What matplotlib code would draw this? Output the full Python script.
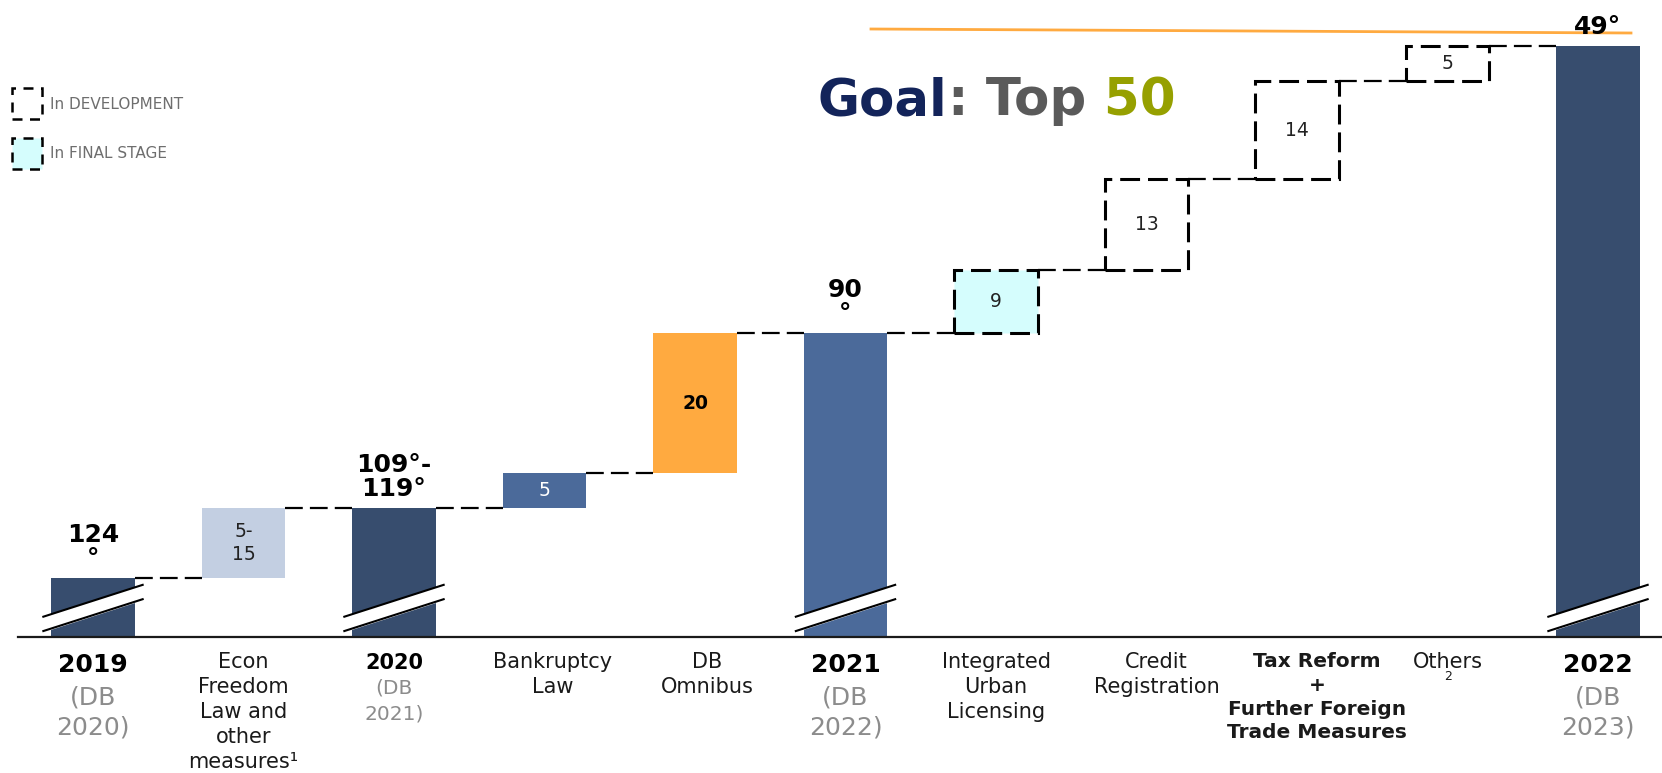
import matplotlib.pyplot as plt
import numpy as np

# dados do waterfall (ranking Doing Business)
categories = ['2019', 'Econ\nFreedom\nLaw and\nother\nmeasures\u00b9', '2020', 'Bankruptcy\nLaw',
              'DB\nOmnibus', '2021', 'Integrated\nUrban\nLicensing', 'Credit\nRegistration',
              'Tax Reform\n+\nFurther Foreign\nTrade Measures', 'Others', '2022']
sub_labels = ['(DB\n2020)', '', '(DB\n2021)', '', '', '(DB\n2022)', '', '', '', '', '(DB\n2023)']
bar_kind = ['total', 'step', 'total', 'step', 'step', 'total', 'step', 'step', 'step', 'step', 'total']
start_visible = 8.4          # parte visivel da barra "quebrada" de 2019
step_values = [10, 5, 20, 9, 13, 14, 5]
step_texts = ['5-\n15', '5', '20', '9', '13', '14', '5']
step_status = ['done', 'done', 'done', 'final', 'dev', 'dev', 'dev']
rank_texts = ['124\n°', '109°-\n119°', '90\n°', '49°']

total_colors = ['#374D6E', '#374D6E', '#4B6A9A', '#374D6E']
step_colors = ['#C3CFE2', '#4B6A9A', '#FFAA40', '#D5FDFD', 'white', 'white', 'white']
step_text_colors = ['#222222', 'white', 'black', '#222222', '#222222', '#222222', '#222222']

W, H = 1662, 773
PX_X, PX_Y = 150.5, 7.0       # pixels por unidade
X0, Y0 = 93, 637              # pixel do centro da 1a barra / linha de base


def px2x(p):
    return (p - X0) / PX_X


def px2y(p):
    return (Y0 - p) / PX_Y


fig = plt.figure(figsize=(W / 100, H / 100), dpi=100)
ax = fig.add_axes([0, 0, 1, 1])
ax.set_xlim(px2x(0), px2x(W))
ax.set_ylim(px2y(H), px2y(0))
ax.axis('off')

width = 0.558
box_ls = (0, (6.5, 2.6))
conn_ls = (0, (8, 3.2))

# calcula bases e topos
level = 0
bottoms, tops = [], []
si = 0
for i, k in enumerate(bar_kind):
    if k == 'total':
        if i == 0:
            level = start_visible
        bottoms.append(0)
        tops.append(level)
    else:
        bottoms.append(level)
        level = level + step_values[si]
        tops.append(level)
        si += 1

si = 0
ti = 0
for i, k in enumerate(bar_kind):
    if k == 'total':
        ax.bar(i, tops[i], width=width, color=total_colors[ti], zorder=2)
        ax.text(i, tops[i] + 1.0, rank_texts[ti], ha='center', va='bottom', fontsize=18,
                fontweight='bold', color='black', linespacing=1.0)
        # marca de quebra
        xs = np.array([i - 0.33, i + 0.33])
        up = np.array([2.9, 7.45])
        lo = up - 2.05
        ax.fill_between(xs, lo, up, color='white', zorder=3)
        ax.plot(xs, up, color='black', lw=1.5, zorder=4)
        ax.plot(xs, lo, color='black', lw=1.5, zorder=4)
        ti += 1
    else:
        st = step_status[si]
        h = tops[i] - bottoms[i]
        if st == 'done':
            ax.bar(i, h, bottom=bottoms[i], width=width, color=step_colors[si], zorder=2)
        else:
            ax.bar(i, h, bottom=bottoms[i], width=width, color=step_colors[si],
                   edgecolor='black', linewidth=2.2, linestyle=box_ls, zorder=2)
        ax.text(i, bottoms[i] + h / 2, step_texts[si], ha='center', va='center', fontsize=13.5,
                color=step_text_colors[si], fontweight='bold' if step_values[si] == 20 else 'normal',
                linespacing=1.3)
        si += 1

# linhas tracejadas de ligacao
for i in range(len(bar_kind) - 1):
    lvl = tops[i]
    ax.plot([i + width / 2, i + 1 - width / 2], [lvl, lvl], color='black', lw=1.6,
            linestyle=conn_ls, zorder=1)

# eixo
ax.plot([px2x(18), px2x(W)], [0, 0], color='#1a1a1a', lw=1.6, zorder=5)

# rotulos das categorias
label_dx = [0, 0, 0, 8, 12, 0, 0, 10, 20, 0, 0]
for i, lab in enumerate(categories):
    x = i + label_dx[i] / PX_X
    if bar_kind[i] == 'total':
        big = lab != '2020'
        ax.text(x, px2y(653), lab, ha='center', va='top', fontsize=18 if big else 15,
                fontweight='bold', color='black')
        ax.text(x, px2y(686 if big else 678), sub_labels[i], ha='center', va='top',
                fontsize=18 if big else 14.5, color='#8C8C8C',
                linespacing=1.3 if big else 1.5)
    else:
        bold = lab.startswith('Tax')
        ax.text(x, px2y(652), lab, ha='center', va='top', fontsize=15 if not bold else 14.5,
                fontweight='bold' if bold else 'normal', color='#1a1a1a', linespacing=1.32)
ax.text(9 + 1 / PX_X, px2y(677), '2', ha='center', va='center', fontsize=9, color='#1a1a1a')

# legenda
for yb, fc, txt in [(88, 'white', 'In DEVELOPMENT'), (138, '#D5FDFD', 'In FINAL STAGE')]:
    rect = plt.Rectangle((px2x(12), px2y(yb + 31)), 30 / PX_X, 31 / PX_Y, facecolor=fc,
                         edgecolor='black', lw=1.8, linestyle=(0, (4, 3)), zorder=2)
    ax.add_patch(rect)
    ax.text(px2x(50), px2y(yb + 16), txt, ha='left', va='center', fontsize=11, color='#6E6E6E')

# linha da meta
ax.plot([px2x(871), px2x(1631)], [px2y(29), px2y(33)], color='#FFAA40', lw=2, zorder=1)

# titulo "Goal: Top 50"
pieces = [('Goal', '#13245A'), (':', '#5A5A5A'), (' Top', '#5A5A5A'), (' 50', '#96A000')]
renderer = fig.canvas.get_renderer()
xpix = 818
for txt, col in pieces:
    t = fig.text(xpix / W, 1 - 115 / H, txt, ha='left', va='baseline', fontsize=37,
                 fontweight='heavy', color=col)
    xpix += t.get_window_extent(renderer).width

fig.savefig('out.png', dpi=100)
